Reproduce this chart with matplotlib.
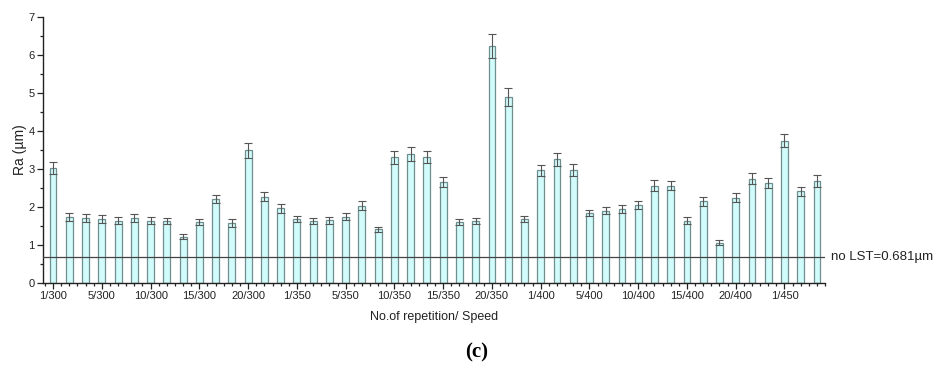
import matplotlib
matplotlib.use("Agg")
import matplotlib.pyplot as plt
from matplotlib.ticker import FixedLocator, MultipleLocator
import numpy as np

plt.rcParams['font.family'] = ['Liberation Sans', 'DejaVu Sans']

ra_values = [3.02, 1.74, 1.70, 1.68, 1.64, 1.70, 1.64, 1.62, 1.21, 1.61,
             2.20, 1.58, 3.49, 2.27, 1.96, 1.69, 1.63, 1.65, 1.74, 2.03,
             1.41, 3.31, 3.40, 3.31, 2.66, 1.59, 1.62, 6.24, 4.89, 1.69,
             2.96, 3.25, 2.97, 1.85, 1.90, 1.94, 2.05, 2.56, 2.56, 1.64,
             2.15, 1.06, 2.24, 2.74, 2.64, 3.74, 2.41, 2.68]
ra_errors = [0.15, 0.11, 0.10, 0.10, 0.10, 0.10, 0.10, 0.08, 0.07, 0.08,
             0.10, 0.10, 0.19, 0.11, 0.11, 0.08, 0.08, 0.09, 0.09, 0.12,
             0.07, 0.17, 0.19, 0.15, 0.13, 0.08, 0.08, 0.32, 0.24, 0.08,
             0.14, 0.16, 0.16, 0.08, 0.10, 0.10, 0.10, 0.14, 0.12, 0.08,
             0.12, 0.07, 0.12, 0.14, 0.13, 0.17, 0.12, 0.16]
tick_labels = ['1/300', '5/300', '10/300', '15/300', '20/300',
               '1/350', '5/350', '10/350', '15/350', '20/350',
               '1/400', '5/400', '10/400', '15/400', '20/400', '1/450']
tick_bar_index = [0, 3, 6, 9, 12, 15, 18, 21, 24, 27, 30, 33, 36, 39, 42, 45]
no_lst = 0.681

fig = plt.figure(figsize=(9.43, 3.67), dpi=100)
ax = fig.add_axes([0.0456, 0.2297, 0.8294, 0.7233])

x = np.arange(len(ra_values))
ax.bar(x, ra_values, width=0.42, color='#d2fbfb', edgecolor='#6f8f8f',
       linewidth=0.9, zorder=2)
ax.errorbar(x, ra_values, yerr=ra_errors, fmt='none', ecolor='#555555',
            elinewidth=0.8, capsize=2.6, capthick=0.8, zorder=3)

ax.axhline(no_lst, color='#444444', linewidth=0.9, zorder=4)
ax.annotate('no LST=0.681\u00b5m', xy=(1.0, no_lst), xycoords=('axes fraction', 'data'),
            xytext=(4, 0), textcoords='offset points', va='center', ha='left',
            fontsize=9.5, color='#222222')

ax.set_xlim(-0.62, 47.5)
ax.set_ylim(0, 7)
ax.xaxis.set_major_locator(FixedLocator(tick_bar_index))
ax.set_xticklabels(tick_labels)
ax.xaxis.set_minor_locator(MultipleLocator(0.5))
ax.yaxis.set_major_locator(MultipleLocator(1))
ax.yaxis.set_minor_locator(MultipleLocator(0.5))

for s in ['top', 'right']:
    ax.spines[s].set_visible(False)
for s in ['left', 'bottom']:
    ax.spines[s].set_linewidth(1.0)
    ax.spines[s].set_color('#222222')

ax.tick_params(axis='both', which='major', direction='out', length=4, width=0.9,
               labelsize=8, colors='#222222', pad=2)
ax.tick_params(axis='both', which='minor', direction='out', length=2.5, width=0.9,
               colors='#222222')

ax.set_xlabel('No.of repetition/ Speed', fontsize=9, labelpad=7, color='#222222')
ax.set_ylabel('Ra (\u00b5m)', fontsize=10, labelpad=1, color='#222222')

fig.text(0.505, 0.04, '(c)', fontsize=15, fontweight='bold', ha='center', va='center',
         family=['Liberation Serif', 'DejaVu Serif'])

fig.savefig('out.png', dpi=100)
